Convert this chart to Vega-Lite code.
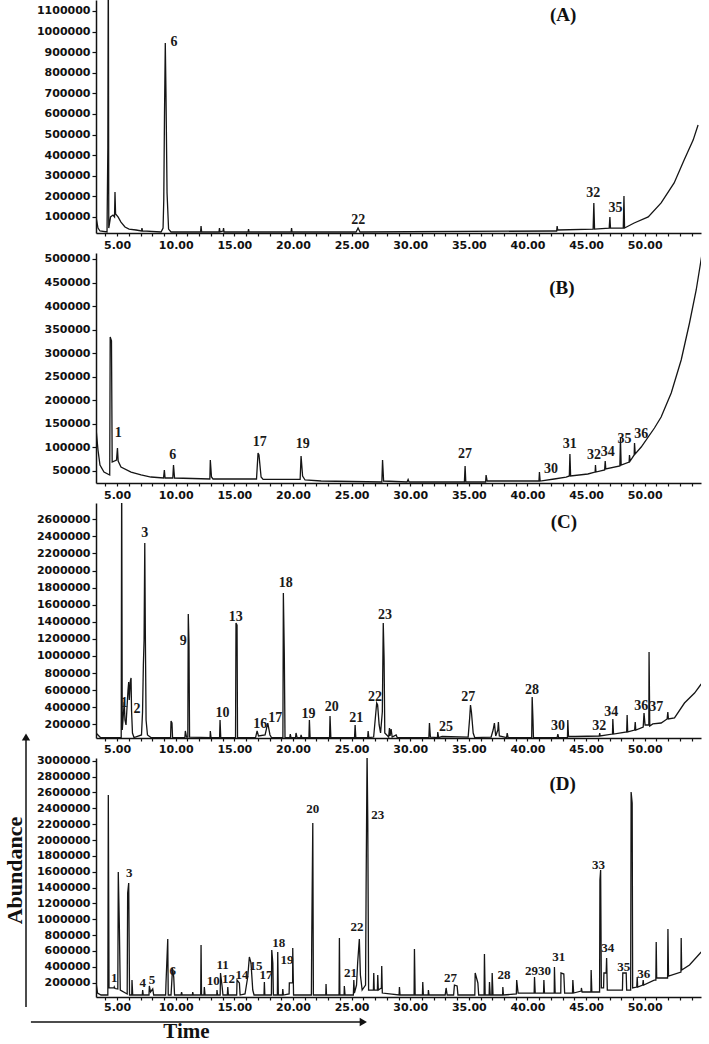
{
"$schema":"https://vega.github.io/schema/vega-lite/v6.json",
"padding":{"left":2,"top":0,"right":4,"bottom":0},
"background":"white",
"config":{"view":{"stroke":null},"axis":{"grid":false,"domainColor":"#111","tickColor":"#111","labelColor":"#111","labelFont":"DejaVu Sans","labelFontWeight":"bold","labelFontSize":11,"domainWidth":1.5,"tickWidth":1.2}},
"bounds":"flush",
"spacing":20,
"datasets":{
"A":[{"t":3.2,"v":100000},{"t":3.37,"v":46000},{"t":3.54,"v":31700},{"t":4.14,"v":26900},{"t":4.21,"v":439000},{"t":4.25,"v":1400000},{"t":4.29,"v":46000},{"t":4.44,"v":100000},{"t":4.65,"v":109000},{"t":4.78,"v":100000},{"t":4.82,"v":221000},{"t":4.87,"v":114000},{"t":5.08,"v":100000},{"t":5.33,"v":75000},{"t":5.67,"v":51000},{"t":6.02,"v":41000},{"t":6.61,"v":36500},{"t":7.08,"v":31700},{"t":7.12,"v":46000},{"t":7.17,"v":31700},{"t":8.75,"v":26900},{"t":8.92,"v":46000},{"t":8.98,"v":182000},{"t":9.04,"v":585000},{"t":9.11,"v":944000},{"t":9.17,"v":692000},{"t":9.26,"v":216000},{"t":9.39,"v":41000},{"t":9.6,"v":26900},{"t":12.12,"v":26900},{"t":12.16,"v":56000},{"t":12.21,"v":26900},{"t":13.69,"v":26900},{"t":13.73,"v":46000},{"t":13.78,"v":26900},{"t":14.04,"v":31700},{"t":14.08,"v":46000},{"t":14.12,"v":26900},{"t":16.17,"v":26900},{"t":16.21,"v":41000},{"t":16.25,"v":26900},{"t":19.84,"v":26900},{"t":19.88,"v":46000},{"t":19.92,"v":26900},{"t":25.38,"v":26900},{"t":25.55,"v":46000},{"t":25.72,"v":26900},{"t":42.19,"v":31700},{"t":42.49,"v":31700},{"t":42.53,"v":56000},{"t":42.58,"v":36500},{"t":45.6,"v":41000},{"t":45.66,"v":168000},{"t":45.72,"v":41000},{"t":46.97,"v":46000},{"t":47.03,"v":100000},{"t":47.08,"v":46000},{"t":48.17,"v":46000},{"t":48.23,"v":202000},{"t":48.28,"v":46000},{"t":49.1,"v":70500},{"t":50.3,"v":100000},{"t":51.4,"v":168000},{"t":52.51,"v":265000},{"t":53.36,"v":376000},{"t":54.13,"v":473000},{"t":54.55,"v":546000}],
"B":[{"t":3.2,"v":141000},{"t":3.37,"v":94500},{"t":3.54,"v":62700},{"t":3.88,"v":47800},{"t":4.37,"v":41500},{"t":4.41,"v":334500},{"t":4.52,"v":326000},{"t":4.58,"v":69000},{"t":4.95,"v":73300},{"t":5.03,"v":98800},{"t":5.09,"v":71200},{"t":5.33,"v":58500},{"t":6.19,"v":47800},{"t":7.04,"v":41500},{"t":7.89,"v":37200},{"t":8.96,"v":35100},{"t":9.03,"v":52100},{"t":9.09,"v":35100},{"t":9.75,"v":35100},{"t":9.81,"v":62700},{"t":9.9,"v":35100},{"t":12.91,"v":33000},{"t":12.95,"v":73300},{"t":13.05,"v":37200},{"t":13.18,"v":33000},{"t":16.89,"v":33000},{"t":17.02,"v":88200},{"t":17.1,"v":84000},{"t":17.28,"v":37200},{"t":17.45,"v":32000},{"t":20.61,"v":32000},{"t":20.69,"v":81800},{"t":20.82,"v":39400},{"t":21.03,"v":30900},{"t":22.4,"v":28700},{"t":27.58,"v":26600},{"t":27.64,"v":73300},{"t":27.73,"v":28700},{"t":29.73,"v":26600},{"t":29.82,"v":32000},{"t":29.9,"v":26600},{"t":34.62,"v":26600},{"t":34.68,"v":60600},{"t":34.74,"v":26600},{"t":36.43,"v":26600},{"t":36.47,"v":41500},{"t":36.56,"v":28700},{"t":40.98,"v":28700},{"t":41.02,"v":47800},{"t":41.08,"v":28700},{"t":42.28,"v":33000},{"t":43.3,"v":37200},{"t":43.57,"v":39400},{"t":43.62,"v":86100},{"t":43.68,"v":39400},{"t":45.15,"v":43600},{"t":45.77,"v":47800},{"t":45.8,"v":62700},{"t":45.84,"v":47800},{"t":46.58,"v":52100},{"t":46.63,"v":71200},{"t":46.68,"v":54200},{"t":47.88,"v":60600},{"t":47.93,"v":120000},{"t":47.99,"v":62700},{"t":48.67,"v":69000},{"t":48.7,"v":84000},{"t":48.76,"v":71200},{"t":49.1,"v":84000},{"t":49.13,"v":109400},{"t":49.19,"v":86100},{"t":49.7,"v":100900},{"t":50.83,"v":141200},{"t":51.4,"v":164600},{"t":52.26,"v":215500},{"t":53.11,"v":285600},{"t":53.82,"v":364100},{"t":54.39,"v":434200},{"t":54.9,"v":512700}],
"C":[{"t":3.2,"v":98000},{"t":3.58,"v":45000},{"t":5.35,"v":45000},{"t":5.39,"v":3200000},{"t":5.44,"v":133000},{"t":5.55,"v":344000},{"t":5.61,"v":461000},{"t":5.67,"v":250000},{"t":5.76,"v":192000},{"t":5.93,"v":601000},{"t":5.99,"v":695000},{"t":6.04,"v":484000},{"t":6.13,"v":707000},{"t":6.19,"v":742000},{"t":6.23,"v":367000},{"t":6.31,"v":98000},{"t":6.44,"v":45000},{"t":7.08,"v":75000},{"t":7.17,"v":344000},{"t":7.24,"v":894000},{"t":7.3,"v":1187000},{"t":7.36,"v":2322000},{"t":7.41,"v":1245000},{"t":7.47,"v":250000},{"t":7.59,"v":75000},{"t":7.89,"v":45000},{"t":9.56,"v":45000},{"t":9.6,"v":239000},{"t":9.68,"v":215000},{"t":9.73,"v":45000},{"t":10.78,"v":45000},{"t":10.82,"v":122000},{"t":10.92,"v":51000},{"t":11.03,"v":51000},{"t":11.07,"v":1491000},{"t":11.13,"v":1152000},{"t":11.18,"v":51000},{"t":12.93,"v":45000},{"t":12.95,"v":122000},{"t":13.01,"v":45000},{"t":13.74,"v":45000},{"t":13.78,"v":250000},{"t":13.84,"v":45000},{"t":15.1,"v":45000},{"t":15.14,"v":1386000},{"t":15.23,"v":1362000},{"t":15.27,"v":45000},{"t":16.81,"v":45000},{"t":16.94,"v":122000},{"t":17.06,"v":63000},{"t":17.62,"v":75000},{"t":17.85,"v":215000},{"t":18.04,"v":75000},{"t":18.17,"v":45000},{"t":19.14,"v":45000},{"t":19.18,"v":1737000},{"t":19.26,"v":1023000},{"t":19.32,"v":45000},{"t":19.73,"v":45000},{"t":19.77,"v":86000},{"t":19.83,"v":45000},{"t":20.22,"v":45000},{"t":20.26,"v":98000},{"t":20.35,"v":45000},{"t":20.65,"v":45000},{"t":20.69,"v":75000},{"t":20.75,"v":45000},{"t":21.36,"v":45000},{"t":21.4,"v":250000},{"t":21.46,"v":45000},{"t":23.12,"v":45000},{"t":23.16,"v":297000},{"t":23.23,"v":45000},{"t":25.25,"v":45000},{"t":25.3,"v":192000},{"t":25.36,"v":45000},{"t":26.37,"v":45000},{"t":26.41,"v":122000},{"t":26.47,"v":45000},{"t":26.88,"v":51000},{"t":27.01,"v":250000},{"t":27.14,"v":449000},{"t":27.22,"v":426000},{"t":27.35,"v":192000},{"t":27.47,"v":98000},{"t":27.62,"v":344000},{"t":27.7,"v":1386000},{"t":27.77,"v":976000},{"t":27.83,"v":98000},{"t":28.16,"v":51000},{"t":28.23,"v":157000},{"t":28.28,"v":63000},{"t":28.37,"v":145000},{"t":28.46,"v":51000},{"t":28.8,"v":75000},{"t":28.89,"v":45000},{"t":31.59,"v":45000},{"t":31.64,"v":215000},{"t":31.72,"v":51000},{"t":32.32,"v":45000},{"t":32.35,"v":110000},{"t":32.42,"v":45000},{"t":32.72,"v":57000},{"t":34.94,"v":51000},{"t":35.07,"v":274000},{"t":35.14,"v":426000},{"t":35.22,"v":344000},{"t":35.37,"v":98000},{"t":35.5,"v":45000},{"t":36.9,"v":51000},{"t":37.07,"v":133000},{"t":37.18,"v":215000},{"t":37.29,"v":63000},{"t":37.47,"v":133000},{"t":37.52,"v":227000},{"t":37.6,"v":63000},{"t":38.22,"v":45000},{"t":38.27,"v":98000},{"t":38.35,"v":45000},{"t":40.36,"v":45000},{"t":40.4,"v":520000},{"t":40.47,"v":250000},{"t":40.51,"v":45000},{"t":42.53,"v":45000},{"t":42.59,"v":86000},{"t":42.66,"v":45000},{"t":43.41,"v":45000},{"t":43.44,"v":250000},{"t":43.5,"v":57000},{"t":44.07,"v":57000},{"t":46.12,"v":63000},{"t":46.16,"v":98000},{"t":46.2,"v":63000},{"t":47.25,"v":86000},{"t":47.28,"v":262000},{"t":47.34,"v":86000},{"t":48.46,"v":110000},{"t":48.5,"v":309000},{"t":48.55,"v":110000},{"t":49.14,"v":133000},{"t":49.19,"v":227000},{"t":49.24,"v":133000},{"t":49.87,"v":168000},{"t":49.94,"v":332000},{"t":50.03,"v":192000},{"t":50.35,"v":192000},{"t":50.37,"v":1046000},{"t":50.43,"v":180000},{"t":50.69,"v":204000},{"t":51.4,"v":215000},{"t":51.91,"v":262000},{"t":51.97,"v":344000},{"t":52.02,"v":262000},{"t":52.54,"v":274000},{"t":53.39,"v":449000},{"t":54.25,"v":566000},{"t":54.82,"v":672000}],
"D":[{"t":3.2,"v":208000},{"t":3.33,"v":69500},{"t":3.63,"v":44000},{"t":4.21,"v":44000},{"t":4.25,"v":2568000},{"t":4.31,"v":133000},{"t":4.74,"v":133000},{"t":4.76,"v":145000},{"t":4.82,"v":126000},{"t":5.06,"v":120000},{"t":5.1,"v":1596000},{"t":5.19,"v":928000},{"t":5.27,"v":107000},{"t":5.86,"v":57000},{"t":5.9,"v":1331000},{"t":5.99,"v":1458000},{"t":6.06,"v":44000},{"t":6.25,"v":44000},{"t":6.27,"v":233000},{"t":6.33,"v":44000},{"t":7.15,"v":44000},{"t":7.18,"v":107000},{"t":7.23,"v":44000},{"t":7.72,"v":44000},{"t":7.75,"v":158000},{"t":7.85,"v":82000},{"t":8.04,"v":120000},{"t":8.12,"v":44000},{"t":9.14,"v":44000},{"t":9.17,"v":196000},{"t":9.32,"v":751000},{"t":9.36,"v":44000},{"t":9.6,"v":44000},{"t":9.73,"v":385000},{"t":9.83,"v":271000},{"t":9.9,"v":44000},{"t":10.45,"v":44000},{"t":10.5,"v":82000},{"t":10.55,"v":44000},{"t":11.42,"v":44000},{"t":11.45,"v":82000},{"t":11.5,"v":44000},{"t":12.13,"v":44000},{"t":12.16,"v":675000},{"t":12.2,"v":44000},{"t":12.41,"v":44000},{"t":12.44,"v":145000},{"t":12.5,"v":44000},{"t":13.5,"v":44000},{"t":13.52,"v":107000},{"t":13.56,"v":44000},{"t":13.79,"v":44000},{"t":13.82,"v":322000},{"t":13.96,"v":145000},{"t":14.03,"v":44000},{"t":14.4,"v":44000},{"t":14.44,"v":145000},{"t":14.49,"v":44000},{"t":15.2,"v":44000},{"t":15.23,"v":233000},{"t":15.43,"v":196000},{"t":15.49,"v":44000},{"t":15.91,"v":57000},{"t":16.14,"v":271000},{"t":16.28,"v":524000},{"t":16.42,"v":448000},{"t":16.57,"v":107000},{"t":16.68,"v":44000},{"t":17.53,"v":44000},{"t":17.56,"v":208000},{"t":17.6,"v":44000},{"t":18.16,"v":44000},{"t":18.19,"v":612000},{"t":18.28,"v":448000},{"t":18.33,"v":44000},{"t":18.67,"v":44000},{"t":18.7,"v":587000},{"t":18.75,"v":44000},{"t":19.1,"v":44000},{"t":19.13,"v":120000},{"t":19.18,"v":44000},{"t":19.67,"v":57000},{"t":19.69,"v":196000},{"t":19.97,"v":196000},{"t":19.98,"v":637000},{"t":20.05,"v":44000},{"t":21.57,"v":44000},{"t":21.6,"v":738000},{"t":21.69,"v":2215000},{"t":21.74,"v":44000},{"t":22.8,"v":44000},{"t":22.82,"v":183000},{"t":22.86,"v":44000},{"t":23.93,"v":44000},{"t":23.96,"v":764000},{"t":24.0,"v":44000},{"t":24.36,"v":44000},{"t":24.38,"v":158000},{"t":24.44,"v":44000},{"t":25.15,"v":44000},{"t":25.19,"v":233000},{"t":25.24,"v":69000},{"t":25.42,"v":170000},{"t":25.52,"v":461000},{"t":25.66,"v":751000},{"t":25.75,"v":297000},{"t":25.9,"v":107000},{"t":26.19,"v":170000},{"t":26.24,"v":1458000},{"t":26.32,"v":3100000},{"t":26.38,"v":2227000},{"t":26.45,"v":107000},{"t":26.86,"v":107000},{"t":26.89,"v":322000},{"t":26.93,"v":107000},{"t":27.2,"v":107000},{"t":27.23,"v":297000},{"t":27.28,"v":107000},{"t":27.54,"v":133000},{"t":27.57,"v":410000},{"t":27.62,"v":69000},{"t":29.05,"v":44000},{"t":29.08,"v":145000},{"t":29.13,"v":44000},{"t":30.33,"v":44000},{"t":30.36,"v":625000},{"t":30.42,"v":44000},{"t":31.04,"v":44000},{"t":31.07,"v":208000},{"t":31.12,"v":44000},{"t":31.53,"v":44000},{"t":31.55,"v":107000},{"t":31.6,"v":44000},{"t":32.98,"v":44000},{"t":33.06,"v":133000},{"t":33.15,"v":44000},{"t":33.7,"v":44000},{"t":33.77,"v":170000},{"t":34.0,"v":158000},{"t":34.07,"v":44000},{"t":35.51,"v":44000},{"t":35.54,"v":322000},{"t":35.77,"v":196000},{"t":35.84,"v":44000},{"t":36.3,"v":44000},{"t":36.33,"v":562000},{"t":36.39,"v":44000},{"t":36.73,"v":44000},{"t":36.76,"v":208000},{"t":36.82,"v":44000},{"t":36.96,"v":44000},{"t":36.99,"v":322000},{"t":37.06,"v":44000},{"t":37.88,"v":44000},{"t":37.9,"v":145000},{"t":37.95,"v":44000},{"t":39.05,"v":57000},{"t":39.08,"v":233000},{"t":39.2,"v":69000},{"t":40.57,"v":69000},{"t":40.6,"v":271000},{"t":40.66,"v":69000},{"t":41.37,"v":69000},{"t":41.4,"v":233000},{"t":41.45,"v":69000},{"t":42.28,"v":69000},{"t":42.3,"v":398000},{"t":42.36,"v":69000},{"t":42.84,"v":69000},{"t":42.86,"v":322000},{"t":43.1,"v":309000},{"t":43.17,"v":69000},{"t":43.84,"v":69000},{"t":43.87,"v":233000},{"t":43.94,"v":69000},{"t":44.58,"v":94000},{"t":44.6,"v":133000},{"t":44.66,"v":82000},{"t":45.41,"v":82000},{"t":45.43,"v":360000},{"t":45.49,"v":82000},{"t":46.15,"v":82000},{"t":46.18,"v":1496000},{"t":46.24,"v":1622000},{"t":46.3,"v":133000},{"t":46.49,"v":133000},{"t":46.52,"v":322000},{"t":46.71,"v":322000},{"t":46.75,"v":511000},{"t":46.81,"v":107000},{"t":47.42,"v":107000},{"t":48.1,"v":107000},{"t":48.13,"v":322000},{"t":48.42,"v":322000},{"t":48.46,"v":107000},{"t":48.8,"v":107000},{"t":48.84,"v":2606000},{"t":48.93,"v":2467000},{"t":48.97,"v":133000},{"t":49.32,"v":145000},{"t":49.36,"v":271000},{"t":49.4,"v":145000},{"t":49.83,"v":170000},{"t":49.87,"v":233000},{"t":49.91,"v":170000},{"t":50.81,"v":233000},{"t":50.95,"v":233000},{"t":50.98,"v":713000},{"t":51.02,"v":259000},{"t":51.95,"v":259000},{"t":51.98,"v":877000},{"t":52.03,"v":284000},{"t":53.09,"v":334000},{"t":53.11,"v":764000},{"t":53.15,"v":360000},{"t":53.82,"v":423000},{"t":54.82,"v":587000}],
"L":[{"p":"A","s":"6","t":9.86,"v":949000},{"p":"A","s":"22","t":25.56,"v":85000},{"p":"A","s":"32","t":45.6,"v":216000},{"p":"A","s":"35","t":47.5,"v":143000},
{"p":"B","s":"1","t":5.1,"v":130000},{"p":"B","s":"6","t":9.74,"v":84000},{"p":"B","s":"17","t":17.17,"v":112000},{"p":"B","s":"19","t":20.84,"v":106600},{"p":"B","s":"27","t":34.68,"v":85000},{"p":"B","s":"30","t":42.0,"v":53600},{"p":"B","s":"31","t":43.6,"v":107000},{"p":"B","s":"32","t":45.67,"v":83000},{"p":"B","s":"34","t":46.85,"v":91000},{"p":"B","s":"35","t":48.28,"v":117000},{"p":"B","s":"36","t":49.7,"v":128000},
{"p":"C","s":"1","t":5.61,"v":446000},{"p":"C","s":"2","t":6.69,"v":379000},{"p":"C","s":"3","t":7.36,"v":2436000},{"p":"C","s":"9","t":10.65,"v":1179000},{"p":"C","s":"10","t":13.99,"v":336000},{"p":"C","s":"13","t":15.12,"v":1460000},{"p":"C","s":"16","t":17.2,"v":200000},{"p":"C","s":"17","t":18.48,"v":277000},{"p":"C","s":"18","t":19.39,"v":1850000},{"p":"C","s":"19","t":21.32,"v":316000},{"p":"C","s":"20","t":23.31,"v":399000},{"p":"C","s":"21","t":25.4,"v":277000},{"p":"C","s":"22","t":26.99,"v":523000},{"p":"C","s":"23","t":27.84,"v":1483000},{"p":"C","s":"25","t":33.06,"v":172000},{"p":"C","s":"27","t":34.94,"v":523000},{"p":"C","s":"28","t":40.38,"v":601000},{"p":"C","s":"30","t":42.6,"v":180000},{"p":"C","s":"32","t":46.13,"v":180000},{"p":"C","s":"34","t":47.14,"v":348000},{"p":"C","s":"36","t":49.7,"v":414000},{"p":"C","s":"37","t":50.98,"v":406000},
{"p":"D","s":"1","t":4.76,"v":255000},{"p":"D","s":"3","t":6.04,"v":1580000},{"p":"D","s":"4","t":7.18,"v":192000},{"p":"D","s":"5","t":7.97,"v":233000},{"p":"D","s":"6","t":9.74,"v":351000},{"p":"D","s":"10","t":13.2,"v":225000},{"p":"D","s":"11","t":14.0,"v":425000},{"p":"D","s":"12","t":14.5,"v":240000},{"p":"D","s":"14","t":15.65,"v":297000},{"p":"D","s":"15","t":16.85,"v":410000},{"p":"D","s":"17","t":17.7,"v":297000},{"p":"D","s":"18","t":18.78,"v":704000},{"p":"D","s":"19","t":19.5,"v":486000},{"p":"D","s":"20","t":21.69,"v":2388000},{"p":"D","s":"21","t":24.9,"v":318000},{"p":"D","s":"22","t":25.47,"v":906000},{"p":"D","s":"23","t":27.23,"v":2316000},{"p":"D","s":"27","t":33.43,"v":255000},{"p":"D","s":"28","t":38.0,"v":297000},{"p":"D","s":"29","t":40.35,"v":351000},{"p":"D","s":"30","t":41.45,"v":351000},{"p":"D","s":"31","t":42.67,"v":528000},{"p":"D","s":"33","t":46.05,"v":1685000},{"p":"D","s":"34","t":46.85,"v":641000},{"p":"D","s":"35","t":48.21,"v":394000},{"p":"D","s":"36","t":49.92,"v":309000}],
"T":[{"p":"A","s":"(A)","t":43.05,"v":1080000},{"p":"B","s":"(B)","t":42.93,"v":437800},{"p":"C","s":"(C)","t":43.1,"v":2572000},{"p":"D","s":"(D)","t":43.0,"v":2707000}],
"AR":[{"t":-2.77,"v":-107000,"t2":-2.77,"v2":3290000},{"t":-2.35,"v":-296500,"t2":25.8,"v2":-296500}],
"AH":[{"k":"up","t":-2.77,"v":3300000},{"k":"right","t":26.0,"v":-296500}]
},
"vconcat":[
{"width":605,"height":233,
 "encoding":{
  "x":{"field":"t","type":"quantitative","title":null,"scale":{"domain":[3.2,54.8],"nice":false,"zero":false},"axis":{"values":[4,5,6,7,8,9,10,11,12,13,14,15,16,17,18,19,20,21,22,23,24,25,26,27,28,29,30,31,32,33,34,35,36,37,38,39,40,41,42,43,44,45,46,47,48,49,50,51,52,53,54],"labelExpr":"datum.value % 5 === 0 ? format(datum.value, '.2f') : ''","tickSize":3,"labelPadding":3,"labelOverlap":false,"labelFlush":false}},
  "y":{"field":"v","type":"quantitative","title":null,"scale":{"domain":[22000,1153000],"nice":false,"zero":false},"axis":{"values":[100000,200000,300000,400000,500000,600000,700000,800000,900000,1000000,1100000],"format":"d","tickSize":4,"labelPadding":2}}
 },
 "layer":[
  {"data":{"name":"A"},"mark":{"type":"line","clip":true,"color":"#151515","strokeWidth":1.3},"encoding":{}},
  {"data":{"name":"L"},"transform":[{"filter":"datum.p==='A'"}],"mark":{"type":"text","font":"Liberation Serif","fontWeight":"bold","fontSize":14,"color":"#1a1a1a"},"encoding":{"text":{"field":"s"}}},
  {"data":{"name":"T"},"transform":[{"filter":"datum.p==='A'"}],"mark":{"type":"text","font":"Liberation Serif","fontWeight":"bold","fontSize":19,"color":"#111"},"encoding":{"text":{"field":"s"}}}
 ]},
{"width":605,"height":230,
 "encoding":{
  "x":{"field":"t","type":"quantitative","title":null,"scale":{"domain":[3.2,54.8],"nice":false,"zero":false},"axis":{"values":[4,5,6,7,8,9,10,11,12,13,14,15,16,17,18,19,20,21,22,23,24,25,26,27,28,29,30,31,32,33,34,35,36,37,38,39,40,41,42,43,44,45,46,47,48,49,50,51,52,53,54],"labelExpr":"datum.value % 5 === 0 ? format(datum.value, '.2f') : ''","tickSize":3,"labelPadding":3,"labelOverlap":false,"labelFlush":false}},
  "y":{"field":"v","type":"quantitative","title":null,"scale":{"domain":[24500,512700],"nice":false,"zero":false},"axis":{"values":[50000,100000,150000,200000,250000,300000,350000,400000,450000,500000],"format":"d","tickSize":4,"labelPadding":2}}
 },
 "layer":[
  {"data":{"name":"B"},"mark":{"type":"line","clip":true,"color":"#151515","strokeWidth":1.3},"encoding":{}},
  {"data":{"name":"L"},"transform":[{"filter":"datum.p==='B'"}],"mark":{"type":"text","font":"Liberation Serif","fontWeight":"bold","fontSize":14,"color":"#1a1a1a"},"encoding":{"text":{"field":"s"}}},
  {"data":{"name":"T"},"transform":[{"filter":"datum.p==='B'"}],"mark":{"type":"text","font":"Liberation Serif","fontWeight":"bold","fontSize":19,"color":"#111"},"encoding":{"text":{"field":"s"}}}
 ]},
{"width":605,"height":235,
 "encoding":{
  "x":{"field":"t","type":"quantitative","title":null,"scale":{"domain":[3.2,54.8],"nice":false,"zero":false},"axis":{"values":[4,5,6,7,8,9,10,11,12,13,14,15,16,17,18,19,20,21,22,23,24,25,26,27,28,29,30,31,32,33,34,35,36,37,38,39,40,41,42,43,44,45,46,47,48,49,50,51,52,53,54],"labelExpr":"datum.value % 5 === 0 ? format(datum.value, '.2f') : ''","tickSize":3,"labelPadding":2,"labelOverlap":false,"labelFlush":false}},
  "y":{"field":"v","type":"quantitative","title":null,"scale":{"domain":[39600,2790800],"nice":false,"zero":false},"axis":{"values":[200000,400000,600000,800000,1000000,1200000,1400000,1600000,1800000,2000000,2200000,2400000,2600000],"format":"d","tickSize":4,"labelPadding":2}}
 },
 "layer":[
  {"data":{"name":"C"},"mark":{"type":"line","clip":true,"color":"#151515","strokeWidth":1.3},"encoding":{}},
  {"data":{"name":"L"},"transform":[{"filter":"datum.p==='C'"}],"mark":{"type":"text","font":"Liberation Serif","fontWeight":"bold","fontSize":14,"color":"#1a1a1a"},"encoding":{"text":{"field":"s"}}},
  {"data":{"name":"T"},"transform":[{"filter":"datum.p==='C'"}],"mark":{"type":"text","font":"Liberation Serif","fontWeight":"bold","fontSize":19,"color":"#111"},"encoding":{"text":{"field":"s"}}}
 ]},
{"width":605,"height":239,
 "encoding":{
  "x":{"field":"t","type":"quantitative","title":"Time","scale":{"domain":[3.2,54.8],"nice":false,"zero":false},"axis":{"values":[4,5,6,7,8,9,10,11,12,13,14,15,16,17,18,19,20,21,22,23,24,25,26,27,28,29,30,31,32,33,34,35,36,37,38,39,40,41,42,43,44,45,46,47,48,49,50,51,52,53,54],"labelExpr":"datum.value % 5 === 0 ? format(datum.value, '.2f') : ''","tickSize":3,"labelPadding":1,"labelOverlap":false,"labelFlush":false,"titleFont":"Liberation Serif","titleFontSize":21,"titleFontWeight":"bold","titleColor":"#111","titleX":90,"titleY":34,"titleAlign":"center","titleBaseline":"middle"}},
  "y":{"field":"v","type":"quantitative","title":"Abundance","scale":{"domain":[19000,3035000],"nice":false,"zero":false},"axis":{"values":[200000,400000,600000,800000,1000000,1200000,1400000,1600000,1800000,2000000,2200000,2400000,2600000,2800000,3000000],"format":"d","tickSize":4,"labelPadding":2,"titleFont":"Liberation Serif","titleFontSize":22,"titleFontWeight":"bold","titleColor":"#111","titleAngle":-90,"titleX":-82,"titleY":112,"titleAlign":"center","titleBaseline":"middle"}}
 },
 "layer":[
  {"data":{"name":"D"},"mark":{"type":"line","clip":true,"color":"#151515","strokeWidth":1.3},"encoding":{}},
  {"data":{"name":"L"},"transform":[{"filter":"datum.p==='D'"}],"mark":{"type":"text","font":"Liberation Serif","fontWeight":"bold","fontSize":13,"color":"#1a1a1a"},"encoding":{"text":{"field":"s"}}},
  {"data":{"name":"T"},"transform":[{"filter":"datum.p==='D'"}],"mark":{"type":"text","font":"Liberation Serif","fontWeight":"bold","fontSize":19,"color":"#111"},"encoding":{"text":{"field":"s"}}},
  {"data":{"name":"AR"},"mark":{"type":"rule","color":"#111","strokeWidth":1.5},"encoding":{"x2":{"field":"t2"},"y2":{"field":"v2"}}},
  {"data":{"name":"AH"},"transform":[{"filter":"datum.k==='up'"}],"mark":{"type":"point","shape":"triangle-up","filled":true,"size":70,"color":"#111","opacity":1},"encoding":{}},
  {"data":{"name":"AH"},"transform":[{"filter":"datum.k==='right'"}],"mark":{"type":"point","shape":"triangle-right","filled":true,"size":70,"color":"#111","opacity":1},"encoding":{}}
 ]}
]
}
